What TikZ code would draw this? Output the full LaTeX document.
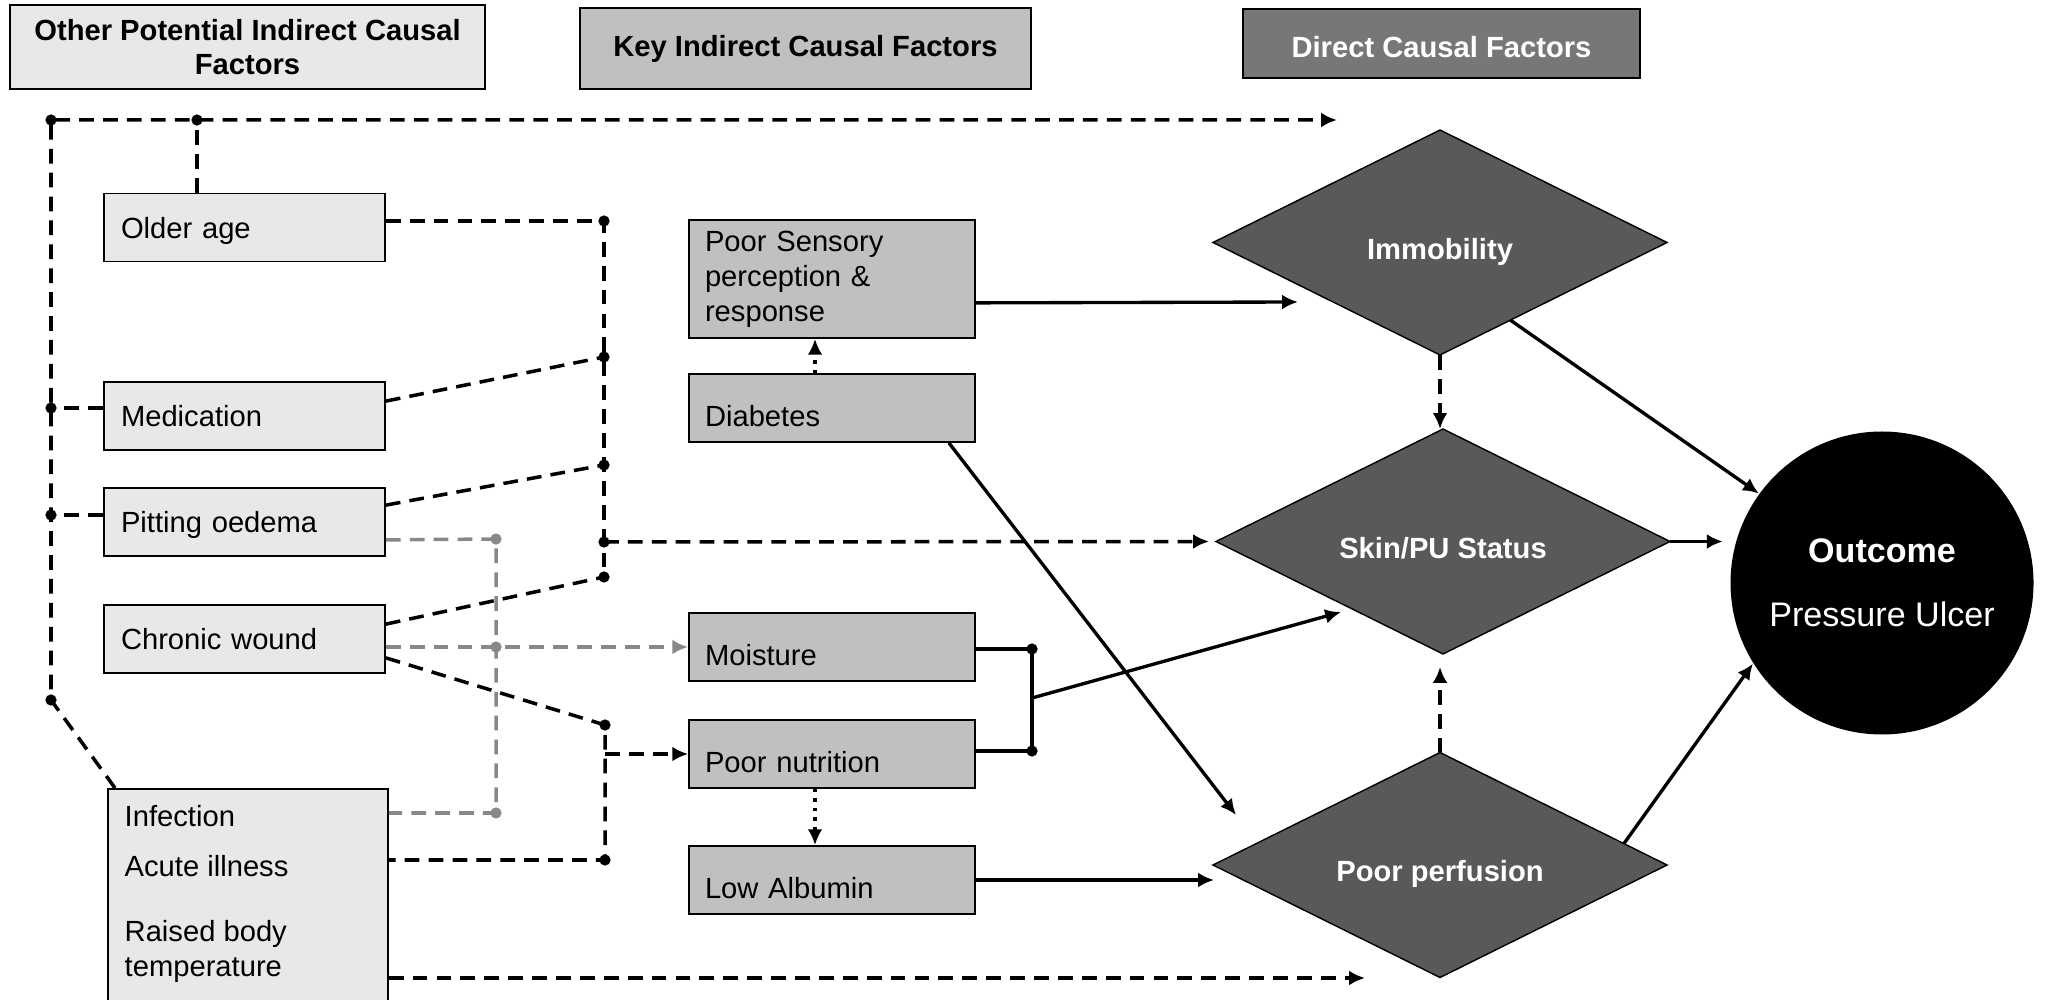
\documentclass[tikz,border=0pt]{standalone}
\usepackage{fontspec}
\setmainfont{Liberation Sans}
\usepackage{tikz}
\usetikzlibrary{calc,shapes.geometric,arrows.meta,positioning}

\definecolor{otherfill}{HTML}{E8E8E8}
\definecolor{keyfill}{HTML}{C0C0C0}
\definecolor{directhead}{HTML}{777777}
\definecolor{directfill}{HTML}{595959}
\definecolor{greyline}{HTML}{888888}

\tikzset{
  boxfont/.style={font=\fontsize{8.3}{10}\selectfont},
  headbox/.style={draw, line width=0.6pt, font=\fontsize{8.3}{9.5}\selectfont\bfseries, align=center, inner sep=0pt},
  otherbox/.style={draw, line width=0.5pt, fill=otherfill, boxfont, minimum width=2.81cm, minimum height=0.68cm, text width=2.47cm, align=left, inner xsep=0.17cm, inner ysep=2pt, text height=6pt, text depth=0pt},
  keybox/.style={draw, line width=0.5pt, fill=keyfill, boxfont, minimum width=2.86cm, text width=2.54cm, align=left, inner xsep=0.16cm, inner ysep=2pt},
  keyone/.style={keybox, minimum height=0.68cm, text height=10.6pt, text depth=0pt},
  directbox/.style={diamond, draw, line width=0.4pt, fill=directfill, text=white, font=\fontsize{8.3}{10}\selectfont\bfseries, minimum width=4.54cm, minimum height=2.25cm, inner sep=0pt, outer sep=0pt, aspect=2, text height=9.4pt, text depth=0pt},
  dline/.style={line width=1pt, dash pattern=on 4.2pt off 2.6pt},
  gline/.style={dline, draw=greyline},
  dotline/.style={line width=1pt, dash pattern=on 1pt off 1.7pt},
  sline/.style={line width=0.95pt},
  arr/.style={-{Latex[length=4.5pt,width=4.2pt]}},
}

\begin{document}
\begin{tikzpicture}
\useasboundingbox (0,0) rectangle (20.45,-10);

% headers
\node[headbox, fill=otherfill, minimum width=4.75cm, minimum height=0.84cm] (hOther) at (2.475,-0.47) {Other Potential Indirect Causal\\Factors};
\node[headbox, fill=keyfill, minimum width=4.51cm, minimum height=0.81cm] (hKey) at (8.055,-0.485) {Key Indirect Causal Factors};
\node[headbox, fill=directhead, text=white, minimum width=3.97cm, minimum height=0.69cm, text height=8pt, text depth=0pt] (hDirect) at (14.415,-0.435) {Direct Causal Factors};

% other potential indirect factors
\node[otherbox] (older) at (2.445,-2.275) {Older age};
\node[otherbox] (medic) at (2.445,-4.16) {Medication};
\node[otherbox] (pitting) at (2.445,-5.22) {Pitting oedema};
\node[otherbox] (chronic) at (2.445,-6.39) {Chronic wound};
\node[draw, line width=0.5pt, fill=otherfill, minimum width=2.80cm, minimum height=2.4cm, anchor=north west, inner sep=0pt] (infect) at (1.07,-7.88) {};
\node[boxfont, anchor=north west, align=left, inner sep=0pt] (infecttext) at (1.24,-8.05) {Infection\\[4.2pt]Acute illness\\[8.5pt]Raised body\\temperature};

% key indirect factors
\node[keybox, minimum height=1.18cm] (sensory) at (8.32,-2.79) {Poor Sensory\\perception \&\\response};
\node[keyone] (diab) at (8.32,-4.08) {Diabetes};
\node[keyone] (moist) at (8.32,-6.47) {Moisture};
\node[keyone] (nutr) at (8.32,-7.54) {Poor nutrition};
\node[keyone] (album) at (8.32,-8.80) {Low Albumin};

% direct factors
\node[directbox] (immob) at (14.40,-2.425) {Immobility};
\node[directbox] (skin) at (14.43,-5.415) {Skin/PU Status};
\node[directbox] (perf) at (14.40,-8.65) {Poor perfusion};

\node[circle, fill=black, text=white, minimum size=3.03cm, inner sep=0pt, align=center, font=\fontsize{9.7}{11.6}\selectfont] (outc) at (18.82,-5.83) {\textbf{Outcome}\\[6.5pt]Pressure Ulcer};

% junctions
\coordinate (jTL) at (0.51,-1.20);
\coordinate (jTA) at (1.97,-1.20);
\coordinate (topEnd) at (13.37,-1.20);
\coordinate (jMed) at (0.51,-4.08);
\coordinate (jPit) at (0.51,-5.15);
\coordinate (jInf) at (0.51,-7.00);
\coordinate (bOld) at (6.04,-2.21);
\coordinate (bMed) at (6.04,-3.57);
\coordinate (bPit) at (6.04,-4.65);
\coordinate (bMid) at (6.04,-5.42);
\coordinate (bChr) at (6.04,-5.77);
\coordinate (bNut) at (6.05,-7.25);
\coordinate (bAcu) at (6.05,-8.60);
\coordinate (gPit) at (4.96,-5.39);
\coordinate (gChr) at (4.96,-6.47);
\coordinate (gInf) at (4.96,-8.13);
\coordinate (jMoist) at (10.32,-6.49);
\coordinate (jNut) at (10.32,-7.51);
\coordinate (jOut) at (10.32,-6.98);
\coordinate (immobIn) at (12.98,-3.02);
\coordinate (perfIn) at (12.36,-8.15);
\coordinate (perfLeft) at (12.14,-8.80);
\coordinate (skinIn) at (13.41,-6.12);
\coordinate (skinUp) at (14.40,-6.67);
\coordinate (botEnd) at (13.65,-9.78);

\draw[dline, arr] ($(infect.north west)+(0.08,0)$) -- (jInf) -- (jTL) -- (topEnd);
\draw[dline] (jTA |- older.north) -- (jTA);
\draw[dline] (medic.west |- jMed) -- (jMed);
\draw[dline] (pitting.west |- jPit) -- (jPit);
\draw[dline] (older.east |- bOld) -- (bOld) -- (bChr);
\draw[dline] ($(medic.north east)+(0,-0.2)$) -- (bMed);
\draw[dline] ($(pitting.north east)+(0,-0.18)$) -- (bPit);
\draw[dline] ($(chronic.north east)+(0,-0.2)$) -- (bChr);
\draw[dline, arr, shorten >=2pt] (bMid) -- (skin.west);
\draw[dline] ($(chronic.south east)+(0,0.16)$) -- (bNut) -- (bAcu) -- (infect.north east |- bAcu);
\draw[dline, arr] (bNut |- nutr.west) -- (nutr.west);
\draw[dline, arr] (infect.north east |- botEnd) -- (botEnd);

\draw[gline] ($(pitting.south east)+(0,0.17)$) -- (gPit) -- (gInf) -- (infect.north east |- gInf);
\draw[gline, arr] (chronic.east |- gChr) -- (moist.west);

\draw[dotline, arr] ($(diab.north)+(-0.17,0)$) -- ($(sensory.south)+(-0.17,0)$);
\draw[dotline, arr] ($(nutr.south)+(-0.17,0)$) -- ($(album.north)+(-0.17,0)$);

\draw[sline, arr] ($(sensory.south east)+(0,0.36)$) -- (immobIn);
\draw[sline, arr] ($(diab.south east)+(-0.27,0)$) -- (perfIn);
\draw[line width=1.2pt] (moist.east |- jMoist) -- (jMoist) -- (jNut) -- (nutr.east |- jNut);
\draw[sline, arr] (jOut) -- (skinIn);
\draw[sline, arr] (album.east) -- (perfLeft);

\draw[dline, arr] (immob.south) -- (immob.south |- skin.north);
\draw[dline, arr] (perf.north) -- (skinUp);
\draw[sline, arr] ($(immob.south)!0.31!(immob.east)$) -- (outc.144);
\draw[sline, arr, shorten >=2pt] (skin.east) -- (skin.east -| outc.west);
\draw[sline, arr] ($(perf.north)!0.81!(perf.east)$) -- (outc.212);

\foreach \p in {jTL,jTA,jMed,jPit,jInf,bOld,bMed,bPit,bMid,bChr,bNut,bAcu,jMoist,jNut}
  \fill (\p) circle (1.6pt);
\foreach \p in {gPit,gChr,gInf}
  \fill[greyline] (\p) circle (1.6pt);

\end{tikzpicture}
\end{document}
